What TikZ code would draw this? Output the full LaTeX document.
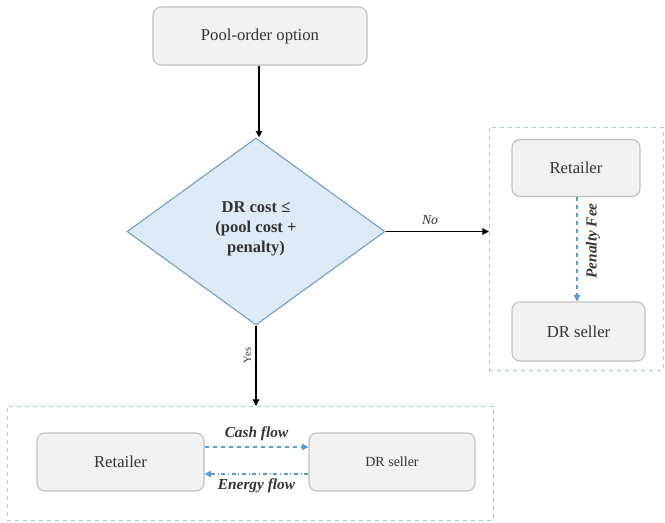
\documentclass[tikz,border=0pt]{standalone}
\usepackage{fontspec}
\setmainfont{Liberation Serif}
\usetikzlibrary{shapes.geometric,arrows.meta}
\definecolor{boxfill}{HTML}{F2F2F2}
\definecolor{boxdraw}{HTML}{BFBFBF}
\definecolor{dfill}{HTML}{DDEBF7}
\definecolor{ddraw}{HTML}{6F9CC8}
\definecolor{grpdraw}{HTML}{A9CBEA}
\definecolor{flow}{HTML}{5B9BD5}
\definecolor{txt}{HTML}{333333}
\tikzset{
  rbox/.style={draw=boxdraw, fill=boxfill, rounded corners=6pt, line width=0.8pt, text=txt},
  grp/.style={draw=grpdraw, dashed, line width=0.7pt},
  blk/.style={-{Triangle[length=5pt,width=5pt]}, line width=0.9pt, black},
  flw/.style={-{Triangle[length=5pt,width=5pt]}, line width=0.8pt, flow},
  lbl/.style={font=\fontsize{11.5}{13}\selectfont\bfseries\itshape, text=txt},
}
\begin{document}
\begin{tikzpicture}[x=0.75pt,y=-0.75pt]
\useasboundingbox (0,0) rectangle (665,522);
% groups
\node[grp, minimum width=174*0.75pt, minimum height=243*0.75pt, anchor=north west] (grpR) at (489,127) {};
\node[grp, minimum width=486*0.75pt, minimum height=114*0.75pt, anchor=north west] (grpB) at (7,406) {};
% top box
\node[rbox, minimum width=214*0.75pt, minimum height=58*0.75pt, font=\fontsize{12.5}{15}\selectfont] (pool) at (260,36) {Pool-order option};
% diamond
\node[diamond, draw=ddraw, fill=dfill, line width=0.8pt, minimum width=258*0.75pt, minimum height=187*0.75pt, inner sep=0pt, aspect=1.38] (dec) at (256,231.5) {};
\node[align=center, font=\fontsize{12.4}{15}\selectfont\bfseries, text=txt] (dectext) at (256,229) {DR cost ≤\\(pool cost +\\penalty)};
% right group
\node[rbox, minimum width=128*0.75pt, minimum height=57*0.75pt, font=\fontsize{12.5}{15}\selectfont] (retR) at (576,168) {Retailer};
\node[rbox, minimum width=133*0.75pt, minimum height=59*0.75pt, font=\fontsize{12.5}{15}\selectfont] (selR) at (578.5,331.5) {DR seller};
% bottom group
\node[rbox, minimum width=167*0.75pt, minimum height=58*0.75pt, font=\fontsize{12.5}{15}\selectfont] (retB) at (120.5,462) {Retailer};
\node[rbox, minimum width=166*0.75pt, minimum height=58*0.75pt, font=\fontsize{10.5}{13}\selectfont] (selB) at (392,462) {DR seller};
% connectors
\draw[blk] (pool.south -| 259,0) -- (dec.north -| 259,0);
\draw[blk] (dec.east) -- node[above=1pt, pos=0.43, font=\fontsize{10.3}{12}\selectfont\itshape, text=txt] (nolbl) {No} (grpR.west |- dec.east);
\draw[blk] (dec.south) -- node[font=\fontsize{8}{10}\selectfont, text=txt, pos=0.37, anchor=south, rotate=90] (yeslbl) {Yes} (grpB.north -| dec.south);
\draw[flw, dashed] (retR.south -| 577,0) -- node[lbl, pos=0.42, xshift=16*0.75pt, rotate=90] (pflbl) {Penalty Fee} (selR.north -| 577,0);
\draw[flw, dashed] (retB.east |- 0,447) -- node[lbl, above=1pt] (cashlbl) {Cash flow} (selB.west |- 0,447);
\draw[flw, dash dot] (selB.west |- 0,474) -- node[lbl, below=0pt] (enlbl) {Energy flow} (retB.east |- 0,474);
\end{tikzpicture}
\end{document}
